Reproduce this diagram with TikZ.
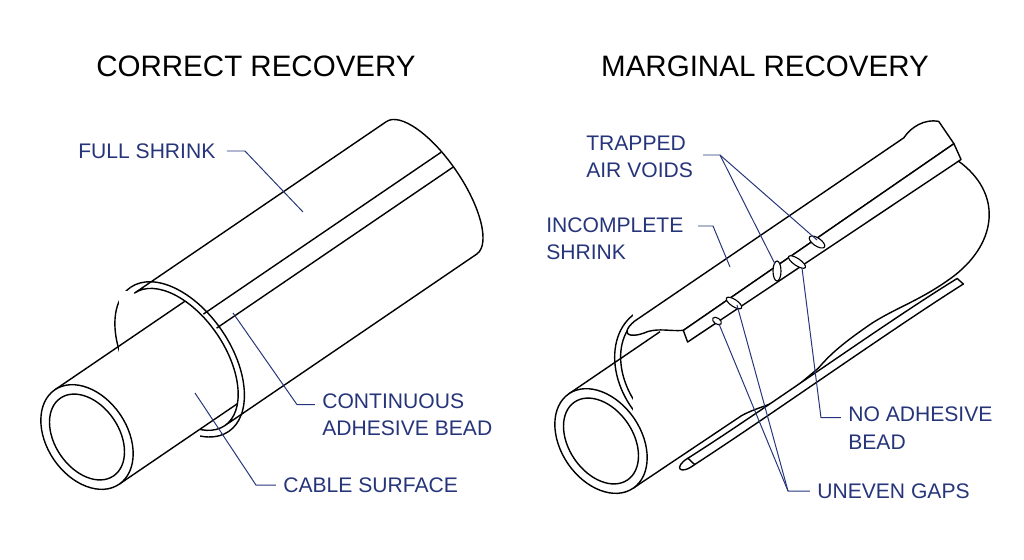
\documentclass[tikz,border=0pt]{standalone}
\usepackage{fontspec}
\setmainfont{Liberation Sans}
\usetikzlibrary{calc}

\definecolor{navy}{HTML}{26357A}

\begin{document}
\begin{tikzpicture}[x=0.025cm, y=-0.025cm,
  part/.style={draw, line width=1pt, fill=white, line join=round},
  edge/.style={draw, line width=1pt, line join=round},
  lbl/.style={text=navy, anchor=west, align=left, inner sep=0pt, font=\fontsize{15}{19.5}\selectfont},
  ttl/.style={font=\fontsize{21}{25}\selectfont},
  lead/.style={draw=navy, line width=0.7pt},
  void/.style={draw, line width=0.8pt, fill=white},
  tilt/.style={x={(0.0207cm,0.0141cm)}, y={(-0.0141cm,0.0207cm)}}]

  \useasboundingbox (0,0) rectangle (1024,559);

  % Titles
  \node[ttl] (t1) at (256,66) {CORRECT RECOVERY};
  \node[ttl] (t2) at (765,66) {MARGINAL RECOVERY};

  % Left cable, full shrink
  \begin{scope}[shift={(87,437)}]
  \begin{scope}[tilt]
    \draw[edge] (120,92) arc[start angle=90, end angle=270, x radius=45, y radius=80];
    \draw[edge] (120,99) arc[start angle=90, end angle=270, x radius=51, y radius=87];
    \fill[white] (0,-57) rectangle (175,57);
    \draw[edge] (0,57) -- (160,57);
    \draw[edge] (0,-57) -- (150,-57);
    \draw[part] (120,92) arc[start angle=90, end angle=-90, x radius=45, y radius=80]
      -- (424,-68) arc[start angle=-90, end angle=90, x radius=30, y radius=80] -- cycle;
    \draw[edge] (120,99) arc[start angle=90, end angle=-90, x radius=51, y radius=87];
    % seam bead
    \draw[edge] (165,36) -- (452,36);
    \draw[edge] (168,17) -- (454,17);
    \draw[part] (0,0) ellipse[x radius=40, y radius=57];
    \draw[edge] (0,0) ellipse[x radius=32, y radius=47];
  \end{scope}
  \end{scope}

  % Right cable, marginal shrink
  \begin{scope}[shift={(601,441)}]
  \begin{scope}[tilt]
    \draw[edge] (100,80) arc[start angle=90, end angle=200, x radius=50, y radius=68];
    \draw[edge] (100,86) arc[start angle=90, end angle=195, x radius=56, y radius=74];
    \fill[white] (0,-57) rectangle (400,57);
    \draw[edge] (0,57) -- (110,57);
    \draw[edge] (0,-57) -- (130,-58) .. controls (150,-60) and (160,-67) .. (180,-66)
      -- (220,-62) .. controls (235,-58) and (250,-55) .. (290,-55)
      .. controls (320,-56) and (345,-64) .. (385,-62);
    \draw[edge] (385,-62) .. controls (440,-58) and (470,-20) .. (452,30);
    % lower strip
    \draw[part] (62,-63) .. controls (150,-66) and (300,-62) .. (385,-66)
      -- (387,-74) .. controls (300,-71) and (150,-74) .. (64,-72) -- cycle;
    \draw[edge] (64,-72) .. controls (45,-73) and (45,-62) .. (62,-63);
    % upper flap
    \draw[part] (95,80) -- (420,80) .. controls (432,85) and (448,84) .. (458,74)
      -- (458,47) -- (130,45) .. controls (118,52) and (112,60) .. (100,64)
      .. controls (80,68) and (75,78) .. (95,80) -- cycle;
    \draw[part] (130,45) -- (127,33) -- (455,30) -- (458,47) -- cycle;
    \draw[part] (0,0) ellipse[x radius=40, y radius=57];
    \draw[edge] (0,0) ellipse[x radius=32, y radius=47];
  \end{scope}
  \end{scope}

  % Voids and gaps
  \draw[void, rotate around={-34:(817,242)}] (817,242) ellipse[x radius=9, y radius=4];
  \draw[void] (777,271) ellipse[x radius=4, y radius=10];
  \draw[void, rotate around={-34:(797,262)}] (797,262) ellipse[x radius=10, y radius=3.5];
  \draw[void, rotate around={-34:(734,303)}] (734,303) ellipse[x radius=9, y radius=3.5];
  \draw[void, rotate around={-34:(717,321)}] (717,321) ellipse[x radius=5, y radius=3];

  % Labels, left
  \node[lbl] (full) at (78,151) {FULL SHRINK};
  \node[lbl] (bead) at (322,415) {CONTINUOUS\\ADHESIVE BEAD};
  \node[lbl] (surf) at (283,485) {CABLE SURFACE};
  \coordinate (fullT) at (303,212);
  \coordinate (beadT) at (233,313);
  \coordinate (surfT) at (195,393);
  \draw[lead] ([xshift=8pt]full.east) -- ++(18,0) -- (fullT);
  \draw[lead] ([xshift=-5pt]bead.north west) ++(0,11) -- ++(-18,0) -- (beadT);
  \draw[lead] ([xshift=-5pt]surf.west) -- ++(-20,0) -- (surfT);

  % Labels, right
  \node[lbl] (trap) at (586,157) {TRAPPED\\AIR VOIDS};
  \node[lbl] (incs) at (546,239) {INCOMPLETE\\SHRINK};
  \node[lbl] (nobd) at (848,428) {NO ADHESIVE\\BEAD};
  \node[lbl] (gaps) at (817,491) {UNEVEN GAPS};
  \coordinate (trapK) at (720,155);
  \draw[lead] (703,155) -- (trapK) -- (817,240);
  \draw[lead] (trapK) -- (775,264);
  \draw[lead] (698,226) -- (713,226) -- (730,267);
  \draw[lead] ([xshift=-5pt]nobd.north west) ++(0,11) -- ++(-20,0) -- (802,268);
  \coordinate (gapsK) at (788,491);
  \draw[lead] ([xshift=-5pt]gaps.west) -- (gapsK) -- (737,305);
  \draw[lead] (gapsK) -- (719,324);
\end{tikzpicture}
\end{document}
